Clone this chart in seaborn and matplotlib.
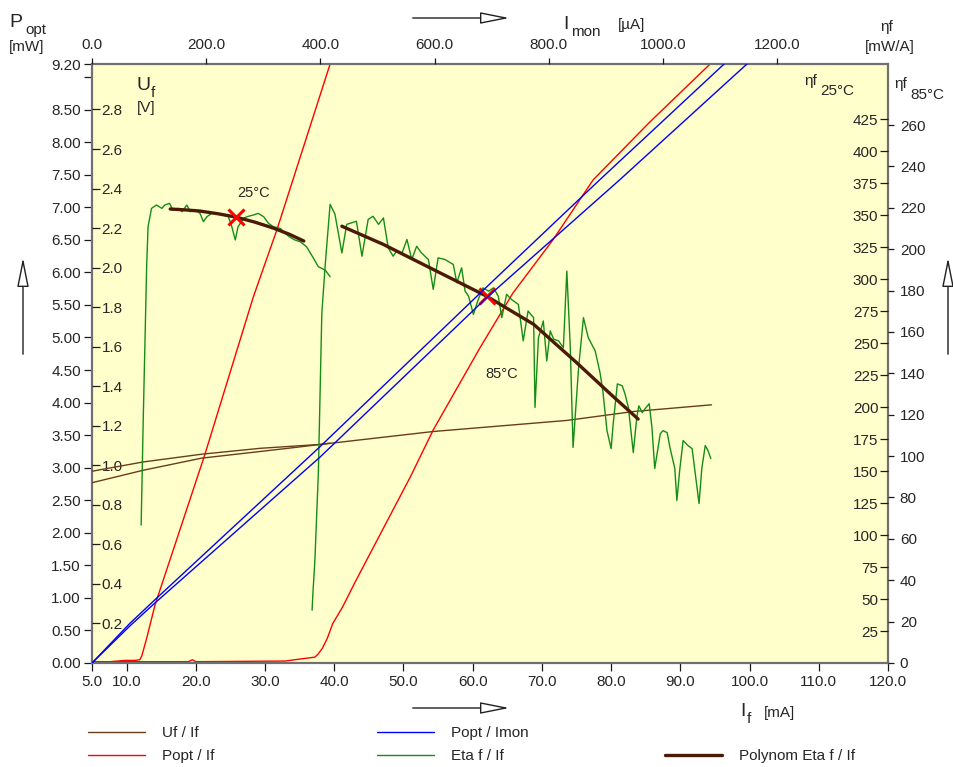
import matplotlib
matplotlib.use("Agg")
import matplotlib.pyplot as plt
import seaborn as sns
from matplotlib.lines import Line2D
from matplotlib.patches import FancyArrowPatch

sns.set_style("white")
plt.rcParams["font.family"] = ["Liberation Sans", "DejaVu Sans"]

# ---- values ----
# forward voltage Uf / If  (25 degC short run, 85 degC full run)
if_uf25 = [5.0, 12.4, 20.8, 29.3, 38.1, 39.4]
uf25 = [0.970, 1.017, 1.056, 1.086, 1.106, 1.112]
if_uf85 = [5.0, 12.4, 20.8, 33.3, 38.1, 54.3, 73.6, 83.2, 94.5]
uf85 = [0.912, 0.975, 1.036, 1.086, 1.106, 1.171, 1.227, 1.272, 1.306]

# optical power Popt / If
if_p25 = [5.0, 7.6, 9.8, 11.2, 11.9, 12.2, 12.9, 14.1, 21.3, 28.3, 31.7, 39.4]
popt25 = [0.02, 0.02, 0.04, 0.04, 0.05, 0.11, 0.38, 0.89, 3.20, 5.62, 6.65, 9.20]
if_p85 = [5.0, 18.9, 19.5, 20.0, 32.9, 35.0, 37.2, 37.7, 38.3, 39.0, 39.8, 41.2,
          43.0, 51.0, 54.3, 61.1, 65.8, 71.6, 77.4, 85.6, 94.3]
popt85 = [0.02, 0.02, 0.05, 0.02, 0.03, 0.06, 0.09, 0.14, 0.23, 0.38, 0.61, 0.86,
          1.24, 2.86, 3.58, 4.85, 5.68, 6.50, 7.42, 8.31, 9.20]

# Popt / Imon
imon_a = [0, 66.5, 110, 399, 682, 889, 1107]
popt_a = [0, 0.61, 0.97, 3.32, 5.70, 7.42, 9.20]
imon_b = [0, 66.5, 110, 399, 691, 924, 1147]
popt_b = [0, 0.57, 0.92, 3.16, 5.61, 7.42, 9.20]

# slope efficiency eta f / If, 25 degC (inner right scale)
if_eta25 = [12.1, 12.4, 12.9, 13.1, 13.6, 14.3, 15.1, 15.5, 16.2, 16.7, 17.5, 18.0,
            18.7, 19.2, 19.9, 20.6, 21.1, 21.6, 22.3, 23.0, 24.0, 24.7, 25.2, 25.7,
            26.1, 26.9, 27.4, 28.3, 29.0, 29.8, 30.5, 31.2, 32.2, 32.9, 33.5, 34.3,
            35.1, 36.0, 37.0, 37.7, 38.7, 39.4]
eta25 = [107.8, 189.8, 310.9, 340.9, 355.2, 357.8, 355.2, 357.8, 359.1, 353.9, 355.2,
         352.6, 357.8, 352.6, 353.9, 351.3, 344.8, 348.7, 351.3, 351.3, 350.0, 348.7,
         340.9, 330.5, 340.9, 347.4, 348.7, 350.0, 351.3, 348.7, 343.5, 340.9, 339.6,
         335.7, 333.0, 330.5, 329.1, 325.2, 316.2, 309.6, 307.0, 301.8]

# slope efficiency eta f / If, 85 degC (outer right scale)
if_eta85 = [36.8, 36.9, 37.2, 37.7, 38.2, 38.7, 39.4, 40.1, 41.1, 41.8,
            43.2, 44.0, 44.9, 45.6, 46.4, 47.1, 47.8, 48.5, 49.0, 49.8,
            50.5, 51.2, 51.9, 52.6, 53.6, 54.3, 55.0, 56.0, 57.2, 57.7,
            58.4, 58.9, 59.4, 60.1, 60.8, 61.5, 62.3, 63.0, 63.7, 64.2,
            64.9, 65.6, 66.6, 67.3, 68.0, 68.8, 69.0, 69.5, 70.2, 70.7,
            71.2, 71.7, 72.4, 73.1, 73.6, 74.1, 74.5, 75.3, 76.0, 76.7,
            77.7, 78.4, 78.8, 79.4, 80.0, 80.3, 80.9, 81.6, 82.0, 82.5,
            83.2, 83.7, 84.0, 84.5, 84.9, 85.5, 85.9, 86.3, 87.1, 87.5,
            88.1, 88.5, 89.2, 89.5, 89.9, 90.4, 91.1, 91.7, 92.1, 92.7,
            93.1, 93.6, 94.0, 94.4]
eta85 = [25.5, 32.8, 49.6, 91.6, 168.7, 192.8, 221.7, 216.9, 198.2, 212.0,
         213.5, 196.6, 214.4, 215.9, 212.0, 215.1, 200.6, 196.6, 199.0, 198.2,
         204.7, 195.0, 201.4, 198.2, 195.0, 180.6, 195.8, 195.0, 192.6, 183.8,
         191.0, 179.7, 177.3, 168.5, 175.7, 181.3, 179.7, 181.3, 177.3, 166.9,
         178.2, 175.7, 173.3, 155.7, 170.1, 166.9, 123.5, 157.2, 165.3, 146.0,
         160.5, 156.5, 155.7, 152.4, 189.4, 152.4, 104.2, 142.8, 166.9, 157.2,
         150.8, 140.2, 131.6, 112.3, 103.6, 115.7, 134.9, 134.0, 130.1, 123.4,
         101.7, 118.5, 124.3, 121.0, 122.9, 125.3, 113.7, 94.0, 110.8, 112.3,
         111.3, 104.1, 94.0, 78.5, 93.0, 107.5, 105.1, 103.6, 93.0, 77.1,
         94.0, 105.1, 102.6, 98.8]

# polynomial fits of eta f / If
if_poly25 = [16.3, 18.5, 20.6, 23.2, 25.8, 28.5, 31.2, 33.5, 35.6]
poly25 = [354.7, 354.0, 353.1, 351.0, 348.4, 344.5, 339.8, 335.0, 329.7]
if_poly85 = [41.1, 47.1, 54.3, 62.0, 68.8, 75.0, 79.9, 83.9]
poly85 = [211.1, 202.3, 190.2, 177.3, 163.7, 145.2, 130.0, 117.9]

# marked operating points
mark25 = (25.8, 348.4)
mark85 = (62.1, 177.3)

# axis ticks
if_ticks = [5, 10, 20, 30, 40, 50, 60, 70, 80, 90, 100, 110, 120]
popt_ticks = [0, 0.5, 1, 1.5, 2, 2.5, 3, 3.5, 4, 4.5, 5, 5.5, 6, 6.5, 7, 7.5, 8, 8.5, 9, 9.2]
uf_ticks = [0.2, 0.4, 0.6, 0.8, 1.0, 1.2, 1.4, 1.6, 1.8, 2.0, 2.2, 2.4, 2.6, 2.8]
imon_ticks = [0, 200, 400, 600, 800, 1000, 1200]
eta25_ticks = list(range(25, 426, 25))
eta85_ticks = list(range(0, 261, 20))

C_UF = "#6b3c1c"
C_POLY = "#4a1a06"
C_RED = "#ff0000"
C_BLUE = "#0000ff"
C_GREEN = "#168c16"
TICK = "#1a1a1a"

W, H = 954, 767
fig = plt.figure(figsize=(W / 100, H / 100), dpi=100, facecolor="white")
ax = fig.add_axes([92 / W, 1 - 663 / H, (888 - 92) / W, (663 - 64) / H])
ax.set_facecolor("#ffffcc")

ax_uf = ax.twinx()
ax_e25 = ax.twinx()
ax_e85 = ax.twinx()
ax_top = ax.twiny()
for a in (ax_uf, ax_e25, ax_e85, ax_top):
    for s in a.spines.values():
        s.set_visible(False)
for s in ax.spines.values():
    s.set_color("#707070")
    s.set_linewidth(1.6)

# ---- curves ----
def line(a, x, y, color, lw=1.0):
    sns.lineplot(x=x, y=y, ax=a, color=color, lw=lw, sort=False,
                 estimator=None, legend=False)

line(ax, if_p25, popt25, C_RED)
line(ax, if_p85, popt85, C_RED)
line(ax_uf, if_uf25, uf25, C_UF)
line(ax_uf, if_uf85, uf85, C_UF)
line(ax_top, imon_a, popt_a, C_BLUE)
line(ax_top, imon_b, popt_b, C_BLUE)
line(ax_e25, if_eta25, eta25, C_GREEN)
line(ax_e85, if_eta85, eta85, C_GREEN)
line(ax_e25, if_poly25, poly25, C_POLY, lw=2.4)
line(ax_e85, if_poly85, poly85, C_POLY, lw=2.4)
ax_e25.plot(*mark25, marker="x", color=C_RED, ms=11, mew=2.2)
ax_e85.plot(*mark85, marker="x", color=C_RED, ms=11, mew=2.2)
ax_e25.text(26.0, 364, "25°C", fontsize=10.5, va="baseline")
ax_e85.text(61.8, 137.7, "85°C", fontsize=10.5, va="baseline")

# ---- axes ----
ax.set_xlim(5, 120)
ax.set_ylim(0, 9.2)
ax_top.set_xlim(0, 1394)
ax_uf.set_ylim(0, 3.03)
ax_e25.set_ylim(0, 468)
ax_e85.set_ylim(0, 289.5)
for a in (ax, ax_uf, ax_e25, ax_e85, ax_top):
    a.set_xlabel("")
    a.set_ylabel("")

ax.set_xticks(if_ticks, labels=[f"{v:.1f}" for v in if_ticks])
ax.set_yticks(popt_ticks, labels=["" if v == 9 else f"{v:.2f}" for v in popt_ticks])
ax.tick_params(axis="x", direction="out", length=6, width=0.9, pad=2.5,
               labelsize=11, color=TICK, bottom=True)
ax.tick_params(axis="y", direction="out", length=5.5, width=0.9, pad=2.5,
               labelsize=11, color=TICK, left=True)

ax_top.set_xticks(imon_ticks, labels=[f"{v:.1f}" for v in imon_ticks])
ax_top.tick_params(axis="x", direction="out", length=4.5, width=0.9, pad=4,
                   labelsize=11, color=TICK, top=True)

ax_uf.yaxis.tick_left()
ax_uf.tick_params(axis="y", direction="in", length=5.5, width=0.9, pad=-7,
                  labelsize=11, color=TICK)
ax_uf.set_yticks(uf_ticks, labels=[f"{v:.1f}" for v in uf_ticks], ha="left")

ax_e25.yaxis.tick_right()
ax_e25.tick_params(axis="y", direction="in", length=5.5, width=0.9, pad=-7,
                   labelsize=11, color=TICK)
ax_e25.set_yticks(eta25_ticks, labels=[str(v) for v in eta25_ticks], ha="right")

ax_e85.yaxis.tick_right()
ax_e85.tick_params(axis="y", direction="out", length=4.5, width=0.9, pad=4,
                   labelsize=11, color=TICK)
ax_e85.set_yticks(eta85_ticks, labels=[str(v) for v in eta85_ticks])

# ---- titles (positions in figure pixels) ----
def ftext(x, y, s, size=11):
    fig.text(x / W, 1 - y / H, s, fontsize=size, va="baseline")

ftext(9, 27, "P", 14)
ftext(25, 34, "opt")
ftext(9, 51, "[mW]")
ftext(137, 90, "U", 14)
ftext(151, 97, "f")
ftext(137, 112, "[V]")
ftext(563, 29, "I", 14)
ftext(571, 36, "mon")
ftext(618, 29, "[µA]")
ftext(880, 31, "ηf")
ftext(865, 51, "[mW/A]")
ftext(804, 85, "ηf")
ftext(820, 95, "25°C")
ftext(894, 88, "ηf")
ftext(910, 99, "85°C")
ftext(740, 716, "I", 14)
ftext(747, 723, "f")
ftext(764, 717, "[mA]")

def arrow(x0, y0, x1, y1):
    fig.add_artist(FancyArrowPatch(
        (x0 / W, 1 - y0 / H), (x1 / W, 1 - y1 / H), transform=fig.transFigure,
        arrowstyle="-|>,head_length=0.9,head_width=0.18", mutation_scale=20,
        fc="white", ec="#202020", lw=1))

arrow(410, 18, 512, 18)
arrow(410, 708, 512, 708)
arrow(23, 357, 23, 255)
arrow(948, 357, 948, 255)

# ---- legend, three columns ----
def h(color, lw=1.0):
    return Line2D([], [], color=color, lw=lw)

cols = [
    (88, [h(C_UF), h(C_RED)], ["Uf / If", "Popt / If"]),
    (377, [h(C_BLUE), h(C_GREEN)], ["Popt / Imon", "Eta f / If"]),
    (665, [h("none"), h(C_POLY, 2.4)], [" ", "Polynom Eta f / If"]),
]
for x0, handles, labels in cols:
    fig.legend(handles, labels, loc="upper left", bbox_to_anchor=(x0 / W, 1 - 726 / H),
               frameon=False, fontsize=11, borderpad=0, borderaxespad=0,
               handlelength=3.7, handletextpad=1.15, labelspacing=0.62)

fig.savefig("out.png", dpi=100, facecolor="white")
